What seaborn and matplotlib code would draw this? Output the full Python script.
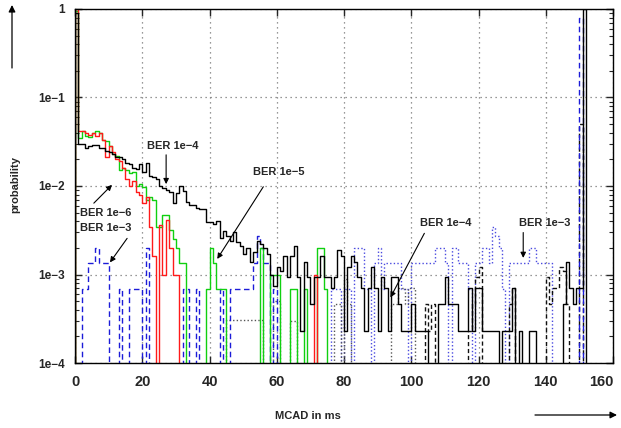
import numpy as np
import pandas as pd
import matplotlib
matplotlib.use("Agg")
import matplotlib.pyplot as plt
import seaborn as sns

# ---------------- data (probability per 1 ms MCAD bin) ----------------
# black solid, bins 0..151
black_start = 0
black_vals = [0.9, 3.0e-2, 3.0e-2, 2.7e-2, 2.8e-2, 2.9e-2, 2.9e-2, 2.7e-2, 2.7e-2, 2.5e-2,
              2.4e-2, 2.3e-2, 2.1e-2, 2.1e-2, 2.0e-2, 1.8e-2, 1.75e-2, 1.6e-2, 1.55e-2, 1.75e-2,
              1.45e-2, 1.8e-2, 1.3e-2, 1.25e-2, 1.2e-2, 1.0e-2, 9.5e-3, 9.0e-3, 8.5e-3, 6.4e-3,
              8.3e-3, 1.0e-2, 8.7e-3, 6.6e-3, 6.1e-3, 6.1e-3, 5.7e-3, 5.5e-3, 5.5e-3, 3.9e-3,
              3.9e-3, 3.7e-3, 4.0e-3, 2.6e-3, 3.1e-3, 2.7e-3, 2.4e-3, 3.0e-3, 2.3e-3, 2.1e-3,
              1.7e-3, 2.0e-3, 1.37e-3, 1.8e-3, 2.4e-3, 2.2e-3, 2.0e-3, 1.7e-3, 1.0e-3, 7.5e-4,
              1.2e-3, 1.1e-3, 1.6e-3, 9.3e-4, 1.6e-3, 2.1e-3, 9.3e-4, 2.3e-4, 1.4e-3, 9.3e-4,
              4.7e-4, 9.3e-4, 9.3e-4, 1.6e-3, 9.3e-4, 9.3e-4, 7.0e-4, 9.3e-4, 1.9e-3, 1.6e-3,
              2.3e-4, 1.2e-3, 1.6e-3, 1.4e-3, 9.3e-4, 7.0e-4, 2.3e-4, 7.0e-4, 1.2e-3, 7.0e-4,
              2.3e-4, 9.3e-4, 7.0e-4, 2.3e-4, 9.3e-4, 9.3e-4, 4.7e-4, 2.3e-4, 2.3e-4, 2.3e-4,
              4.7e-4, 2.3e-4, 2.3e-4, 2.3e-4, 2.3e-4, 0, 0, 0, 4.7e-4, 4.7e-4,
              9.3e-4, 4.7e-4, 4.7e-4, 4.7e-4, 2.3e-4, 2.3e-4, 2.3e-4, 7.0e-4, 2.3e-4, 7.0e-4,
              7.0e-4, 2.3e-4, 2.3e-4, 2.3e-4, 2.3e-4, 2.3e-4, 0, 2.3e-4, 2.3e-4, 2.3e-4,
              7.0e-4, 0, 2.3e-4, 0, 0, 2.3e-4, 2.3e-4, 0, 0, 0,
              0, 0, 0, 0, 0, 4.7e-4, 1.4e-3, 7.0e-4, 4.7e-4, 7.0e-4,
              7.0e-4, 1.0]

# red solid (BER 1e-6), bins 0..72
red_start = 0
red_vals = [1.0, 4.2e-2, 4.2e-2, 4.0e-2, 3.8e-2, 4.0e-2, 3.7e-2, 4.0e-2, 3.3e-2, 2.1e-2,
            2.8e-2, 2.4e-2, 2.0e-2, 1.9e-2, 1.6e-2, 1.2e-2, 1.0e-2, 1.15e-2, 8.5e-3, 7.9e-3,
            6.4e-3, 7.5e-3, 3.4e-3, 1.6e-3, 0, 3.6e-3, 1.0e-3, 4.1e-3, 2.0e-3, 1.0e-3,
            1.0e-3, 0, 0, 0, 0, 0, 0, 0, 0, 0,
            0, 0, 0, 0, 0, 0, 0, 0, 0, 0,
            0, 0, 0, 0, 0, 0, 0, 0, 0, 0,
            0, 0, 0, 0, 0, 0, 0, 0, 0, 0,
            0, 1.0e-3]

# green solid (BER 1e-5), bins 0..74
green_start = 0
green_vals = [0.95, 3.5e-2, 4.2e-2, 3.7e-2, 3.6e-2, 4.0e-2, 4.2e-2, 4.0e-2, 3.3e-2, 3.2e-2,
              2.8e-2, 2.3e-2, 2.2e-2, 1.5e-2, 1.6e-2, 1.5e-2, 1.4e-2, 1.45e-2, 1.0e-2, 1.05e-2,
              9.8e-3, 7.0e-3, 7.5e-3, 7.0e-3, 3.4e-3, 3.4e-3, 4.7e-3, 4.7e-3, 3.2e-3, 2.5e-3,
              2.0e-3, 1.36e-3, 1.36e-3, 0, 0, 0, 0, 0, 0, 6.8e-4,
              2.0e-3, 1.36e-3, 6.8e-4, 6.8e-4, 6.8e-4, 0, 0, 0, 0, 0,
              0, 0, 0, 0, 0, 2.0e-3, 0, 0, 1.0e-3, 1.0e-3,
              1.0e-3, 0, 0, 0, 6.8e-4, 6.8e-4, 0, 0, 6.8e-4, 0,
              0, 0, 2.0e-3, 2.0e-3, 6.8e-4]

# blue dashed (BER 1e-3), bins 0..150
bdash_start = 0
bdash_vals = [0, 0, 6.8e-4, 6.8e-4, 1.36e-3, 1.36e-3, 2.0e-3, 1.36e-3, 1.36e-3, 1.36e-3,
              0, 0, 0, 6.8e-4, 0, 0, 6.8e-4, 6.8e-4, 6.8e-4, 6.8e-4,
              0, 2.0e-3, 0, 0, 0, 0, 0, 0, 0, 0,
              0, 0, 6.8e-4, 6.8e-4, 0, 0, 6.8e-4, 0, 0, 0,
              0, 0, 0, 6.8e-4, 0, 0, 6.8e-4, 6.8e-4, 6.8e-4, 6.8e-4,
              6.8e-4, 6.8e-4, 6.8e-4, 1.36e-3, 2.7e-3, 2.0e-3, 1.36e-3, 1.36e-3, 0, 6.8e-4,
              0, 0, 0, 0, 0, 0, 0, 0, 0, 0,
              0, 0, 0, 0, 0, 0, 0, 0, 0, 0,
              0, 0, 0, 0, 0, 0, 0, 0, 0, 0,
              0, 0, 0, 0, 0, 0, 0, 0, 0, 0,
              0, 0, 0, 0, 0, 0, 0, 0, 0, 0,
              0, 0, 0, 0, 0, 0, 0, 0, 0, 0,
              0, 0, 0, 0, 0, 0, 0, 0, 0, 0,
              0, 0, 0, 0, 0, 0, 0, 0, 0, 0,
              0, 0, 0, 0, 0, 0, 0, 0, 0, 0,
              0.8]

# blue dotted (BER 1e-3, second set), bins 76..141
bdot_start = 76
bdot_vals = [6.8e-4, 6.8e-4, 6.8e-4, 0, 6.8e-4, 6.8e-4, 0, 2.0e-3, 2.0e-3, 2.0e-3,
             6.8e-4, 6.8e-4, 0, 1.36e-3, 2.0e-3, 6.8e-4, 1.36e-3, 1.36e-3, 1.36e-3, 1.36e-3,
             1.36e-3, 6.8e-4, 6.8e-4, 0, 1.36e-3, 1.36e-3, 1.36e-3, 1.36e-3, 1.36e-3, 1.36e-3,
             1.36e-3, 2.0e-3, 2.0e-3, 2.0e-3, 1.36e-3, 0, 2.0e-3, 2.0e-3, 1.36e-3, 1.36e-3,
             1.36e-3, 6.8e-4, 0, 1.36e-3, 1.36e-3, 2.0e-3, 2.0e-3, 1.36e-3, 3.4e-3, 2.7e-3,
             2.0e-3, 6.8e-4, 0, 1.36e-3, 1.36e-3, 1.36e-3, 1.36e-3, 1.36e-3, 1.36e-3, 2.0e-3,
             2.0e-3, 1.36e-3, 1.36e-3, 1.36e-3, 1.36e-3, 1.36e-3]

# grey dotted (BER 1e-4, second set), bins 45..100
gdot_start = 45
gdot_vals = [3.1e-4, 3.1e-4, 3.1e-4, 3.1e-4, 3.1e-4, 3.1e-4, 3.1e-4, 3.1e-4, 3.1e-4, 3.1e-4,
             3.1e-4, 0, 0, 0, 5.0e-4, 5.0e-4, 0, 0, 0, 3.0e-4,
             3.0e-4, 0, 0, 0, 0, 0, 0, 0, 0, 0,
             0, 0, 4.7e-4, 4.7e-4, 0, 9.0e-4, 4.7e-4, 0, 0, 0,
             0, 0, 0, 0, 0, 0, 0, 0, 0, 4.7e-4,
             4.7e-4, 7.0e-4, 7.0e-4, 4.7e-4, 7.0e-4, 7.0e-4]

# black dashed, bins 104..150
kdash_start = 104
kdash_vals = [4.7e-4, 2.3e-4, 4.7e-4, 0, 0, 0, 0, 0, 0, 0,
              0, 0, 0, 2.3e-4, 4.7e-4, 9.3e-4, 1.2e-3, 0, 0, 0,
              0, 0, 0, 0, 0, 4.7e-4, 7.0e-4, 0, 0, 0,
              0, 0, 0, 0, 0, 0, 9.3e-4, 4.7e-4, 7.0e-4, 7.0e-4,
              1.2e-3, 1.1e-3, 4.7e-4, 0, 0, 0, 0.05]

x_ticks = [0, 20, 40, 60, 80, 100, 120, 140, 160]
y_ticks = [1e-4, 1e-3, 1e-2, 1e-1, 1]
y_ticklabels = ["1e\u22124", "1e\u22123", "1e\u22122", "1e\u22121", "1"]

FLOOR = 1e-7


def step_frame(start, vals):
    xs, ys = [float(start)], [FLOOR]
    for i, v in enumerate(vals):
        v = v if v > 0 else FLOOR
        xs += [start + i, start + i + 1]
        ys += [v, v]
    xs.append(float(start + len(vals)))
    ys.append(FLOOR)
    return pd.DataFrame({"x": xs, "y": ys})


# ---------------- figure ----------------
sns.set_style("ticks")
plt.rcParams["font.family"] = ["Liberation Sans", "DejaVu Sans"]
plt.rcParams["font.weight"] = "bold"

fig = plt.figure(figsize=(6.21, 4.28), dpi=100)
ax = fig.add_axes([75 / 621, 1 - 363 / 428, (613 - 75) / 621, (363 - 9) / 428])

series = [
    (bdot_start, bdot_vals, dict(color="#4a4ae0", linestyle=(0, (1, 1.6)), linewidth=1.0)),
    (gdot_start, gdot_vals, dict(color="#555555", linestyle=(0, (1, 1.6)), linewidth=1.0)),
    (kdash_start, kdash_vals, dict(color="#111111", linestyle=(0, (3, 2)), linewidth=1.0)),
    (bdash_start, bdash_vals, dict(color="#1c1cd8", linestyle=(0, (4, 2.5)), linewidth=1.0)),
    (green_start, green_vals, dict(color="#10d010", linestyle="-", linewidth=1.0)),
    (red_start, red_vals, dict(color="#ff1a1a", linestyle="-", linewidth=1.0)),
    (black_start, black_vals, dict(color="black", linestyle="-", linewidth=1.0)),
]
for start, vals, style in series:
    df = step_frame(start, vals)
    sns.lineplot(data=df, x="x", y="y", ax=ax, estimator=None, sort=False, **style)

ax.set_yscale("log")
ax.set_xlim(0, 160)
ax.set_ylim(1e-4, 1)

ax.set_yticks(y_ticks)
ax.set_yticklabels(y_ticklabels, fontsize=8.5, fontweight="bold")
ax.set_xticks(x_ticks)
xlabels = ax.set_xticklabels([str(v) for v in x_ticks], fontsize=10.5, fontweight="bold")
xlabels[-1].set_horizontalalignment("right")
ax.tick_params(axis="both", which="major", direction="in", length=5, width=1,
               top=True, right=True, pad=7)
ax.tick_params(axis="y", which="minor", direction="in", length=3, width=0.8,
               left=True, right=True)
ax.tick_params(axis="x", which="major", pad=9)
ax.grid(True, which="major", linestyle=(0, (1, 3)), color="#777777", linewidth=0.9)
ax.grid(False, which="minor")
for sp in ax.spines.values():
    sp.set_color("black")
    sp.set_linewidth(1.0)
ax.set_xlabel("")
ax.set_ylabel("")

# annotations
tkw = dict(fontsize=8, fontweight="bold", ha="center", va="center")
akw = dict(arrowstyle="-|>", color="black", lw=0.8, mutation_scale=8, shrinkA=0, shrinkB=0)
ax.text(29.2, 2.85e-2, "BER 1e\u22124", **tkw)
ax.annotate("", xy=(27.1, 1.05e-2), xytext=(27.1, 2.25e-2), arrowprops=akw)
ax.text(60.7, 1.44e-2, "BER 1e\u22125", **tkw)
ax.annotate("", xy=(42.3, 1.5e-3), xytext=(56.0, 9.8e-3), arrowprops=akw)
ax.text(9.2, 4.93e-3, "BER 1e\u22126", **tkw)
ax.annotate("", xy=(11.0, 1.03e-2), xytext=(5.6, 6.4e-3), arrowprops=akw)
ax.text(9.2, 3.33e-3, "BER 1e\u22123", **tkw)
ax.annotate("", xy=(10.4, 1.37e-3), xytext=(15.5, 2.56e-3), arrowprops=akw)
ax.text(110.4, 3.8e-3, "BER 1e\u22124", **tkw)
ax.annotate("", xy=(93.8, 5.5e-4), xytext=(103.9, 2.92e-3), arrowprops=akw)
ax.text(139.6, 3.8e-3, "BER 1e\u22123", **tkw)
ax.annotate("", xy=(133.3, 1.54e-3), xytext=(133.3, 2.98e-3), arrowprops=akw)

# axis titles with arrows
fig.text(15 / 621, 1 - 185 / 428, "probability", rotation=90, fontsize=8,
         fontweight="bold", ha="center", va="center")
fig.text(308 / 621, 1 - 416 / 428, "MCAD in ms", fontsize=8,
         fontweight="bold", ha="center", va="center")
fig_akw = dict(arrowstyle="-|>", color="black", lw=0.9, mutation_scale=10,
               shrinkA=0, shrinkB=0)
ax.annotate("", xy=(12, 428 - 5), xytext=(12, 428 - 68),
            xycoords="figure pixels", textcoords="figure pixels", arrowprops=fig_akw)
ax.annotate("", xy=(617, 428 - 415), xytext=(535, 428 - 415),
            xycoords="figure pixels", textcoords="figure pixels", arrowprops=fig_akw)

fig.savefig("out.png", dpi=100)
